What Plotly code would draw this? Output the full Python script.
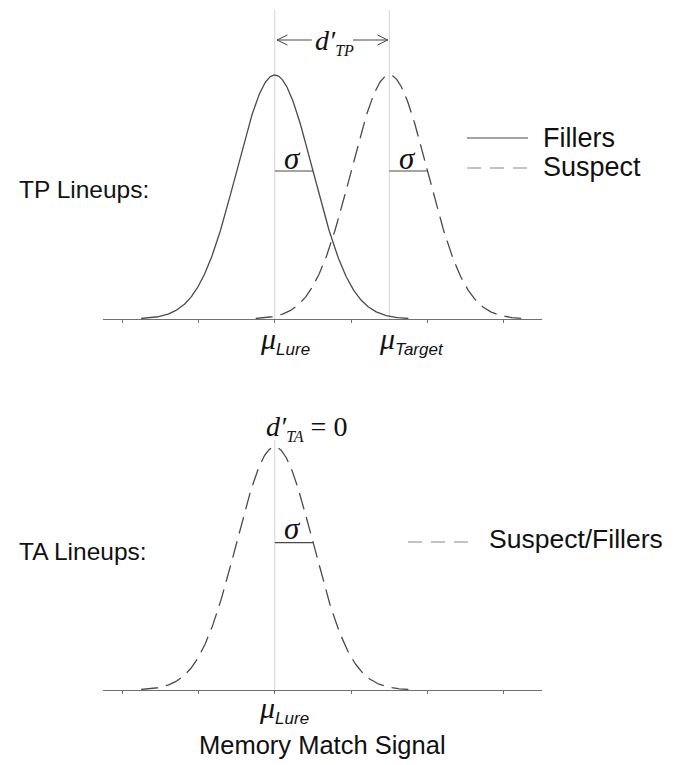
import numpy as np
import plotly.graph_objects as go

# ---- data (conceptual signal-detection model) ----
tp_means = [0.0, 3.0]          # mu_Lure, mu_Target (in sigma units)
tp_names = ["Fillers", "Suspect"]
ta_mean = 0.0                  # mu_Lure for TA lineups (d'_TA = 0)
ta_name = "Suspect/Fillers"
sigma = 1.0
tail = 3.5                     # curves drawn to +/- 3.5 sigma
tick_vals = [-4, -2, 0, 2, 4, 6]

OFF = 8                        # page body margin
FW, FH = 672, 757
XR = [-4.5, 7.0]


def pxx(p):
    return (p - OFF) / FW


def py(p):
    return 1 - (p - OFF) / FH


XD = [pxx(103), pxx(542)]
TOP_D = [py(319), py(10)]
BOT_D = [py(690), py(440)]
TOP_YMAX = 309 / 244
BOT_YMAX = 250 / 243

CURVE = "#4a4a4a"
VLINE = "#d4d4d4"
AXIS = "#707070"
DASH_C = "17px,8px"


def curve(mu):
    x = np.linspace(mu - tail * sigma, mu + tail * sigma, 400)
    y = np.exp(-0.5 * ((x - mu) / sigma) ** 2)
    return x, y


fig = go.Figure()

styles = ["solid", DASH_C]
h = np.exp(-0.5)
for mu, name, dash in zip(tp_means, tp_names, styles):
    x, y = curve(mu)
    fig.add_trace(go.Scatter(x=x, y=y, mode="lines", name=name,
                             line=dict(color=CURVE, width=1.3, dash=dash),
                             xaxis="x", yaxis="y", showlegend=False))
    fig.add_trace(go.Scatter(x=[mu, mu + sigma], y=[h, h], mode="lines",
                             line=dict(color=CURVE, width=1.1),
                             xaxis="x", yaxis="y", showlegend=False))

x, y = curve(ta_mean)
fig.add_trace(go.Scatter(x=x, y=y, mode="lines", name=ta_name,
                         line=dict(color=CURVE, width=1.3, dash=DASH_C),
                         xaxis="x2", yaxis="y2", showlegend=False))
fig.add_trace(go.Scatter(x=[ta_mean, ta_mean + sigma], y=[h, h], mode="lines",
                         line=dict(color=CURVE, width=1.1),
                         xaxis="x2", yaxis="y2", showlegend=False))

shapes = []
for mu in tp_means:
    shapes.append(dict(type="line", xref="x", yref="y domain", x0=mu, x1=mu,
                       y0=0, y1=1, line=dict(color=VLINE, width=1), layer="below"))
shapes.append(dict(type="line", xref="x2", yref="y2 domain", x0=ta_mean, x1=ta_mean,
                   y0=0, y1=1, line=dict(color=VLINE, width=1), layer="below"))

# d' arrows (open V heads)
ay = py(40)
hx = 0.27
hy = 5 / FH
left_tip = tp_means[0] + 0.06
left_end = tp_means[0] + 0.97
right_start = tp_means[1] - 0.95
right_tip = tp_means[1] - 0.04
ac = dict(color="#444", width=1)
shapes += [
    dict(type="line", xref="x", yref="paper", x0=left_tip, x1=left_end, y0=ay, y1=ay, line=ac),
    dict(type="line", xref="x", yref="paper", x0=left_tip, x1=left_tip + hx, y0=ay, y1=ay + hy, line=ac),
    dict(type="line", xref="x", yref="paper", x0=left_tip, x1=left_tip + hx, y0=ay, y1=ay - hy, line=ac),
    dict(type="line", xref="x", yref="paper", x0=right_start, x1=right_tip, y0=ay, y1=ay, line=ac),
    dict(type="line", xref="x", yref="paper", x0=right_tip, x1=right_tip - hx, y0=ay, y1=ay + hy, line=ac),
    dict(type="line", xref="x", yref="paper", x0=right_tip, x1=right_tip - hx, y0=ay, y1=ay - hy, line=ac),
]

# legend samples
shapes += [
    dict(type="line", xref="paper", yref="paper", x0=pxx(467), x1=pxx(528),
         y0=py(138), y1=py(138), line=dict(color=CURVE, width=1.2)),
    dict(type="line", xref="paper", yref="paper", x0=pxx(467), x1=pxx(528),
         y0=py(168), y1=py(168), line=dict(color="#888", width=1.2, dash="14px,9px")),
    dict(type="line", xref="paper", yref="paper", x0=pxx(408), x1=pxx(472),
         y0=py(542), y1=py(542), line=dict(color="#888", width=1.2, dash="14px,9px")),
]

SANS = "Liberation Sans, Arial, sans-serif"
SERIF = "Liberation Serif, Times New Roman, serif"
TXT = "#111"

ann = []


def add(text, x, y, xref="paper", size=22, family=SANS, xanchor="left"):
    ann.append(dict(text=text, x=x, y=y, xref=xref, yref="paper", showarrow=False,
                    font=dict(size=size, family=family, color=TXT),
                    xanchor=xanchor, yanchor="middle"))


add("TP Lineups:", pxx(17), py(190), size=24.5)
add("TA Lineups:", pxx(17), py(551), size=24.5)
add("Fillers", pxx(541), py(138), size=27)
add("Suspect", pxx(541), py(167), size=27)
add("Suspect/Fillers", pxx(487), py(539), size=26.5)
add("Memory Match Signal", pxx(322), py(745), size=25.5, xanchor="center")

mu_tpl = ('<i>μ</i><sub><span style="font-family:Liberation Sans;font-size:17px">'
          '<i>{sub}</i></span></sub>')
add(mu_tpl.format(sub="Lure"), tp_means[0] + 0.26, py(340), xref="x",
    size=30, family=SERIF, xanchor="center")
add(mu_tpl.format(sub="Target"), tp_means[1] + 0.58, py(340), xref="x",
    size=30, family=SERIF, xanchor="center")
add(mu_tpl.format(sub="Lure"), ta_mean + 0.24, py(709), xref="x",
    size=30, family=SERIF, xanchor="center")

dp_tpl = '<i>d′</i><sub><span style="font-size:16px"><i>{sub}</i></span></sub>'
add(dp_tpl.format(sub="TP"), tp_means[0] + 1.57, py(42), xref="x",
    size=28, family=SERIF, xanchor="center")
add(dp_tpl.format(sub="TA") + " = 0", ta_mean + 0.82, py(428), xref="x",
    size=28, family=SERIF, xanchor="center")

for mu in tp_means:
    add("<i>σ</i>", mu + 0.47, py(158), xref="x", size=31, family=SERIF, xanchor="center")
add("<i>σ</i>", ta_mean + 0.47, py(528), xref="x", size=31, family=SERIF, xanchor="center")

ax_common = dict(range=XR, domain=XD, showgrid=False, zeroline=False,
                 showline=True, linecolor=AXIS, linewidth=1.2,
                 tickvals=tick_vals, ticks="outside", ticklen=3, tickcolor=AXIS,
                 showticklabels=False, fixedrange=True)
ay_common = dict(showgrid=False, zeroline=False, showline=False, showticklabels=False,
                 ticks="", fixedrange=True)

fig.update_layout(
    width=FW, height=FH, autosize=False,
    margin=dict(l=0, r=0, t=0, b=0),
    paper_bgcolor="white", plot_bgcolor="white",
    showlegend=False,
    xaxis=dict(anchor="y", **ax_common),
    yaxis=dict(anchor="x", domain=TOP_D, range=[0, TOP_YMAX], **ay_common),
    xaxis2=dict(anchor="y2", **ax_common),
    yaxis2=dict(anchor="x2", domain=BOT_D, range=[0, BOT_YMAX], **ay_common),
    shapes=shapes,
    annotations=ann,
)

fig.write_html("out.html")
